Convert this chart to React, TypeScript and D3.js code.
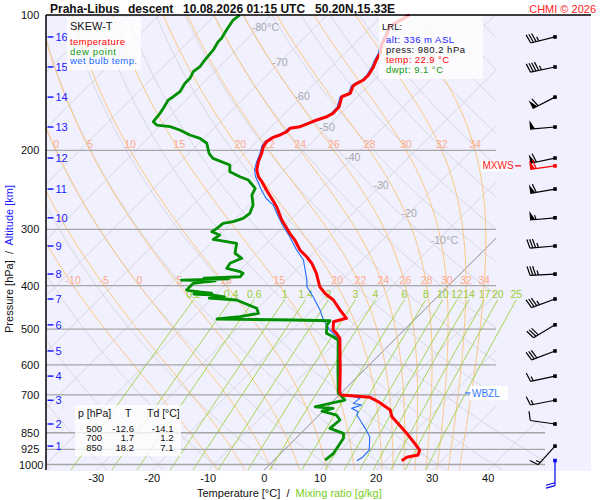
import * as d3 from "d3";

// ---- axes / labels ----
const pressureTicks = [100, 200, 300, 400, 500, 600, 700, 850, 925, 1000];
const longPressureLines = [850, 925, 1000];
const temperatureTicks = [-30, -20, -10, 0, 10, 20, 30, 40];
const altitudeKm = [16, 15, 14, 13, 12, 11, 10, 9, 8, 7, 6, 5, 4, 3, 2, 1];
const altitudeP = [111.9, 130.5, 152.3, 177.5, 208.1, 243.9, 282.6, 326.5, 377.0, 428.4, 489.0, 559.0, 635.8, 719.6, 812.6, 910.0];
const isothermLabelT = [-80, -70, -60, -50, -40, -30, -20, -10];
const isothermLabelP = [106.3, 127.3, 151.4, 177.5, 207.3, 239.1, 275.8, 316.5];
const moistThetaW = [-10, -5, 0, 5, 10, 15, 20, 22, 24, 26, 28, 30, 32, 34];
const mixingRatios = [0.2, 0.4, 0.6, 1, 1.4, 2, 3, 4, 6, 8, 10, 12, 14, 17, 20, 25];

// ---- winds at each km ----
const windDir = [256, 258, 243, 265, 258, 260, 265, 265, 267, 250, 239, 249, 258, 259, 278, 222];
const windSpeed = [35, 45, 60, 50, 60, 60, 55, 35, 35, 35, 30, 30, 15, 15, 10, 15];
const maxWind = { p: 216.6, dir: 262, speed: 60 };
const surfaceWind = { p: 980.2, dir: 180, speed: 20 };

// ---- table ----
const tableP = [500, 700, 850];
const tableT = [-12.6, 1.7, 18.2];
const tableTd = [-14.1, 1.2, 7.1];

const wbzlP = 693;

// ---- sounding [p hPa, T °C] ----
const temperature: [number, number][] = [
  [100, -55.3], [106.2, -56.8], [109.8, -56.0], [116.6, -54.9], [121.7, -53.7], [125.9, -53.2],
  [130.3, -52.5], [136, -51.9], [139.5, -51.9], [141.9, -52.5], [143.9, -52.7], [149.3, -51.9],
  [152, -52.8], [160, -51.5], [165.5, -51.4], [168.4, -51.9], [171.2, -53.1], [174.8, -54.2],
  [177.2, -54.9], [178.7, -56.4], [181.8, -56.4], [184.9, -57.0], [187.1, -57.8], [191.4, -58.2],
  [196.3, -57.9], [203.1, -57.0], [212, -56.1], [221.2, -54.9], [229, -53.4], [234.9, -51.9],
  [245.1, -49.6], [255.7, -47.2], [267, -44.8], [285.8, -41.5], [306, -37.7], [316.7, -35.6],
  [333.3, -32.9], [345, -30.5], [356.8, -28.4], [375.6, -25.8], [388.7, -24.3], [402.3, -22.8],
  [416.1, -20.7], [430.6, -18.0], [453.3, -15.0], [472.9, -12.4], [477, -13.3], [481.2, -14.1],
  [502.1, -12.7], [510.7, -11.5], [524, -10.0], [616, -4.3], [694.4, -0.2], [700.5, 0.4],
  [708.8, 5.9], [725, 8.2], [756.5, 11.8], [783, 13.3], [852.4, 18.9], [889.9, 21.6],
  [928.6, 24.2], [952.7, 24.8], [964, 23.2], [981, 22.9],
];

const dewPoint: [number, number][] = [
  [100, -85.6], [102.6, -85.9], [108, -85.3], [112.7, -84.7], [114.7, -84.7], [119.6, -84.1],
  [125.9, -83.8], [130.3, -83.5], [133.7, -83.8], [138.3, -83.2], [141.9, -83.2], [148.1, -82.6],
  [152, -82.9], [154.6, -83.2], [161.3, -82.6], [165.5, -82.3], [172.7, -82.0], [175.7, -80.8],
  [177.2, -78.1], [180.2, -75.8], [184.9, -73.1], [188.1, -70.7], [192.9, -68.6], [203.1, -66.4],
  [208.4, -64.8], [215.6, -60.6], [223.2, -59.4], [229, -56.7], [232.9, -54.6], [243, -51.9],
  [251.5, -51.3], [264.7, -49.3], [276.2, -48.4], [283.4, -48.7], [288.3, -49.9], [290.7, -51.4],
  [298.2, -51.6], [303.5, -51.9], [308.6, -49.9], [315.5, -50.3], [319.4, -47.5], [322.1, -45.4],
  [339, -43.9], [347.8, -41.8], [356.8, -43.0], [366, -42.7], [372.5, -39.7], [375.6, -38.9],
  [382.2, -38.8], [385, -45.0], [386.5, -40.5], [388.7, -48.7], [390.5, -42.5], [392.1, -43.9],
  [395.3, -46.0], [409.1, -46.0], [413, -43.5], [415.5, -41.0], [417.5, -44.0], [419.7, -40.3],
  [424, -38.0], [426.5, -40.5], [430.6, -35.3], [449.3, -30.2], [461, -29.0], [469.1, -31.7],
  [474.6, -35.4], [477, -21.6], [478.8, -14.9], [489.5, -14.7], [510.7, -13.3], [519.7, -11.5],
  [528.6, -10.0], [616, -4.7], [694, -0.5], [700.5, 0.2], [718.7, 1.9], [743.9, -2.2],
  [750.1, 1.3], [760.5, -0.2], [776.2, 3.1], [796.3, 4.6], [830.9, 4.3], [852.4, 7.6],
  [874.5, 8.5], [897.2, 8.8], [944.4, 9.4], [977.5, 9.1],
];

const wetBulb: [number, number][] = [
  [100, -55.6], [106.2, -57.1], [109.8, -56.3], [116.6, -55.2], [121.7, -54.0], [125.9, -53.5],
  [130.3, -52.8], [136, -52.2], [139.5, -52.2], [141.9, -52.8], [143.9, -53.0], [149.3, -52.2],
  [152, -53.1], [160, -51.8], [165.5, -51.7], [168.4, -52.2], [171.2, -53.4], [174.8, -54.5],
  [177.2, -55.2], [178.7, -56.7], [181.8, -56.7], [184.9, -57.3], [187.1, -58.1], [191.4, -58.5],
  [196.3, -58.2], [203.1, -57.3], [212, -56.4], [221.2, -55.3], [229, -53.9], [234.9, -52.6],
  [245.1, -50.5], [255.7, -48.2], [264.7, -45.7], [281, -42.7], [295.8, -40.0], [311.3, -37.1],
  [333.3, -33.5], [350.8, -30.5], [388.7, -26.3], [402.3, -25.1], [423.4, -22.2], [453.3, -18.6],
  [477, -16.2], [489.5, -14.7], [502.1, -13.3], [510.7, -12.1], [524, -10.4], [616, -4.5],
  [697, 0.0], [700.5, 1.9], [712.8, 4.3], [731, 4.0], [737.4, 5.8], [750.1, 4.6], [763.2, 6.4],
  [776.2, 6.7], [796.3, 8.2], [830.9, 10.6], [867.4, 12.9], [928.6, 15.2], [961, 15.3], [981, 14.9],
];

// ---- geometry ----
const L = 46, R = 496, TOP = 15, BOT = 470, WIDE = 545, BG_R = 591, BARB_X = 555;
const yScale = d3.scaleLog().domain([100, 1000]).range([15, 464.5]);
const tScale = d3.scaleLinear().domain([-30, 40]).range([96.2, 488.2]);
const skewX = (t: number, p: number) => tScale(t) + (BOT - yScale(p));
const pBottom = yScale.invert(BOT);

const profileLine = d3
  .line<[number, number]>()
  .x((d) => skewX(d[1], d[0]))
  .y((d) => yScale(d[0]));

const FONT = "Liberation Sans, Arial, Helvetica, sans-serif";

// thermodynamics for background lines
const satVap = (tc: number) => 6.112 * Math.exp((17.67 * tc) / (tc + 243.5));
const dewFromMixing = (w: number, p: number) => {
  const lnr = Math.log((w * p) / (622 + w) / 6.112);
  return (243.5 * lnr) / (17.67 - lnr);
};

function moistProfile(thetaW: number): [number, number][] {
  const f = (p: number, T: number) => {
    const tc = T - 273.15;
    const e = satVap(tc);
    const r = (0.622 * e) / (p - e);
    return ((287.04 * T + 2.501e6 * r) / (1005.7 + (2.501e6 * 2.501e6 * r * 0.622) / (287.04 * T * T))) / p;
  };
  const run = (h: number, pEnd: number) => {
    const out: [number, number][] = [];
    let p = 1000;
    let T = thetaW + 273.15;
    while ((h < 0 && p > pEnd) || (h > 0 && p < pEnd)) {
      const k1 = f(p, T);
      const k2 = f(p + h / 2, T + (h * k1) / 2);
      const k3 = f(p + h / 2, T + (h * k2) / 2);
      const k4 = f(p + h, T + h * k3);
      T += (h / 6) * (k1 + 2 * k2 + 2 * k3 + k4);
      p += h;
      out.push([p, T - 273.15]);
    }
    return out;
  };
  return [...run(5, 1060).reverse(), [1000, thetaW], ...run(-5, 100)];
}

function Barb({ x0, y0, dir, speed, color }: { x0: number; y0: number; dir: number; speed: number; color: string }) {
  const len = 25;
  const rad = (dir * Math.PI) / 180;
  const ux = Math.sin(rad), uy = -Math.cos(rad);
  const px = -uy, py = ux;
  const ex = x0 + ux * len, ey = y0 + uy * len;
  const at = (s: number) => [ex - ux * s, ey - uy * s];
  let rem = Math.round(speed / 5) * 5;
  const flags = Math.floor(rem / 50);
  rem -= flags * 50;
  const full = Math.floor(rem / 10);
  const half = rem - full * 10 >= 5;
  const parts: JSX.Element[] = [];
  let pos = 0;
  for (let i = 0; i < flags; i++) {
    const [bx, by] = at(pos);
    const [cx, cy] = at(pos + 5);
    parts.push(<polygon key={`f${i}`} points={`${bx},${by} ${bx + px * 9},${by + py * 9} ${cx},${cy}`} fill={color} />);
    pos += 6;
  }
  if (flags === 0 && full === 0 && half) pos = 3;
  for (let i = 0; i < full; i++) {
    const [bx, by] = at(pos);
    parts.push(<line key={`b${i}`} x1={bx} y1={by} x2={bx + px * 9 + ux * 2.5} y2={by + py * 9 + uy * 2.5} stroke={color} strokeWidth={1.2} />);
    pos += 2.8;
  }
  if (half) {
    const [bx, by] = at(pos);
    parts.push(<line key="h" x1={bx} y1={by} x2={bx + px * 4.5 + ux * 1.2} y2={by + py * 4.5 + uy * 1.2} stroke={color} strokeWidth={1.2} />);
  }
  return (
    <g>
      <line x1={x0} y1={y0} x2={ex} y2={ey} stroke={color} strokeWidth={1.2} />
      {parts}
      <rect x={x0 - 1.8} y={y0 - 1.8} width={3.6} height={3.6} fill={color} />
    </g>
  );
}

export default function App() {
  const isotherms = d3.range(-160, 51, 10);
  const dryAdiabats = d3.range(-40, 191, 10);
  const dryP = d3.range(1060, 95, -10);
  const moist = moistThetaW.map((tw) => ({ tw, pts: moistProfile(tw) }));
  const mrP = d3.range(1060, 429, -10);
  const moistAt = (pts: [number, number][], p: number) => pts.find((d) => Math.abs(d[0] - p) < 0.01)![1];

  return (
    <svg width={600} height={500} fontFamily={FONT} style={{ position: "absolute", left: 0, top: 0, display: "block" }}>
      <defs>
        <clipPath id="grid">
          <polygon points={`${L},${TOP} ${R},${TOP} ${R},420 ${WIDE},420 ${WIDE},${BOT} ${L},${BOT}`} />
        </clipPath>
        <clipPath id="mr">
          <rect x={L} y={TOP} width={WIDE - L} height={BOT - TOP} />
        </clipPath>
      </defs>
      <rect width={600} height={500} fill="#fff" />
      <rect x={L} y={TOP} width={BG_R - L} height={BOT - TOP + 1} fill="#f0f0ff" />

      <g clipPath="url(#grid)" fill="none">
        {isotherms.map((t) => (
          <line key={`it${t}`} x1={skewX(t, pBottom)} y1={BOT} x2={skewX(t, 100)} y2={TOP}
            stroke={t === 0 ? "#808080" : "#d2d2d8"} strokeWidth={t === 0 ? 0.9 : 0.8} />
        ))}
        {dryAdiabats.map((th) => (
          <path key={`da${th}`} stroke="#d2d2d8" strokeWidth={0.8}
            d={profileLine(dryP.map((p) => [p, (th + 273.15) * Math.pow(p / 1000, 0.2857) - 273.15]))!} />
        ))}
        {moist.map(({ tw, pts }) => (
          <path key={`ma${tw}`} stroke="#ffc270" strokeWidth={0.9} d={profileLine(pts)!} />
        ))}
      </g>
      <g clipPath="url(#mr)" fill="none">
        {mixingRatios.map((w) => (
          <path key={`mr${w}`} stroke="#9ad43a" strokeWidth={0.9}
            d={profileLine(mrP.map((p) => [p, dewFromMixing(w, p)]))!} />
        ))}
      </g>

      {/* pressure lines */}
      {pressureTicks.filter((p) => p !== 100).map((p) => (
        <line key={`pl${p}`} x1={L} x2={longPressureLines.includes(p) ? WIDE : R} y1={yScale(p)} y2={yScale(p)}
          stroke="#a6a6a6" strokeWidth={1.3} />
      ))}

      {/* grid labels */}
      <g fontSize={10.5}>
        {isothermLabelT.map((t, i) => {
          const x = skewX(t, isothermLabelP[i]);
          const y = yScale(isothermLabelP[i]) + 4;
          return (
            <g key={`itl${t}`} fill="#a8a8a8">
              <text x={x} y={y} textAnchor="middle">{t}</text>
              {(t === -80 || t === -10) && <text x={x + 8} y={y}>{" °C"}</text>}
            </g>
          );
        })}
        {moist.map(({ tw, pts }) =>
          [200, 400].map((p) => {
            const x = skewX(moistAt(pts, p), p);
            if (x < L + 4 || x > R) return null;
            return (
              <text key={`mal${tw}-${p}`} x={x} y={yScale(p) - 2} textAnchor="middle" fill="#ffaa88">{tw}</text>
            );
          })
        )}
        {mixingRatios.map((w) => (
          <text key={`mrl${w}`} x={skewX(dewFromMixing(w, 430), 430)} y={yScale(430) - 2} textAnchor="middle" fill="#9acd32">{w}</text>
        ))}
      </g>

      {/* profiles */}
      <g fill="none" strokeLinejoin="round">
        <path d={profileLine(wetBulb)!} stroke="#1f6dff" strokeWidth={1.1} />
        <path d={profileLine(dewPoint)!} stroke="#008f00" strokeWidth={2.8} />
        <path d={profileLine(temperature)!} stroke="#ff0000" strokeWidth={3} />
      </g>

      {/* borders */}
      <line x1={L} x2={BG_R} y1={TOP} y2={TOP} stroke="#000" strokeWidth={1.5} />
      <line x1={L} x2={L} y1={TOP} y2={BOT} stroke="#000" strokeWidth={1.5} />

      {/* pressure axis */}
      <g fontSize={11} fill="#111">
        {pressureTicks.map((p) => (
          <text key={`pt${p}`} x={p === 1000 ? 19 : 21} y={yScale(p) + 4}>{p}</text>
        ))}
      </g>
      <g fontSize={11} fill="#1a1aff">
        {altitudeKm.map((km, i) => (
          <g key={`km${km}`}>
            <line x1={47.5} x2={53.5} y1={yScale(altitudeP[i])} y2={yScale(altitudeP[i])} stroke="#1a1aff" strokeWidth={1.5} />
            <text x={55.5} y={yScale(altitudeP[i]) + 4}>{km}</text>
          </g>
        ))}
      </g>
      <text transform="translate(13,259) rotate(-90)" textAnchor="middle" fontSize={11} style={{ whiteSpace: "pre" }}>
        <tspan fill="#111">{"Pressure [hPa]  /  "}</tspan>
        <tspan fill="#1a1aff">Altitude [km]</tspan>
      </text>

      {/* temperature axis */}
      <g fontSize={11} fill="#111">
        {temperatureTicks.map((t) => (
          <text key={`tt${t}`} x={tScale(t)} y={482} textAnchor="middle">{t}</text>
        ))}
      </g>
      <text x={197} y={497} fontSize={11} style={{ whiteSpace: "pre" }}>
        <tspan fill="#111">{"Temperature [°C]  /  "}</tspan>
        <tspan fill="#77cc22">Mixing ratio [g/kg]</tspan>
      </text>

      {/* winds */}
      {altitudeKm.map((km, i) => (
        <Barb key={`w${km}`} x0={BARB_X} y0={yScale(altitudeP[i])} dir={windDir[i]} speed={windSpeed[i]} color="#000" />
      ))}
      <Barb x0={BARB_X} y0={yScale(maxWind.p)} dir={maxWind.dir} speed={maxWind.speed} color="#ff0000" />
      <Barb x0={BARB_X} y0={yScale(surfaceWind.p)} dir={surfaceWind.dir} speed={surfaceWind.speed} color="#0000ee" />
      <rect x={481} y={yScale(maxWind.p) - 5.5} width={31} height={11} fill="#fff" />
      <text x={482.5} y={yScale(maxWind.p) + 3.5} fontSize={10} fill="#ff2020">MXWS</text>
      <line x1={515} x2={521} y1={yScale(maxWind.p)} y2={yScale(maxWind.p)} stroke="#ff0000" strokeWidth={1.2} />

      {/* WBZL */}
      <rect x={470} y={yScale(wbzlP) - 7} width={38} height={14} fill="#fff" />
      <line x1={465} x2={470.5} y1={yScale(wbzlP)} y2={yScale(wbzlP)} stroke="#3377ff" strokeWidth={1.2} />
      <text x={472} y={yScale(wbzlP) + 3.7} fontSize={10} fill="#3377ff">WBZL</text>

      {/* legend */}
      <rect x={67} y={17} width={74} height={53} fill="#fff" fillOpacity={0.78} />
      <text x={70} y={30} fontSize={11} fill="#111">SKEW-T</text>
      <g fontSize={9.5}>
        <text x={70} y={45} fill="#ff0000" textLength={55}>temperature</text>
        <text x={70} y={54.5} fill="#119911" textLength={46}>dew point</text>
        <text x={70} y={64} fill="#2266ff" textLength={67}>wet bulb temp.</text>
      </g>

      {/* LRL box */}
      <rect x={379} y={16} width={104} height={63} fill="#fff" fillOpacity={0.78} />
      <g fontSize={9.5}>
        <text x={382} y={30} fill="#111">LRL:</text>
        <text x={386} y={43} fill="#1a1aff" textLength={68}>alt: 336 m ASL</text>
        <text x={386} y={53.3} fill="#111" textLength={79}>press: 980.2 hPa</text>
        <text x={386} y={63.3} fill="#ff0000" textLength={63}>temp: 22.9 °C</text>
        <text x={386} y={72.8} fill="#119911" textLength={57}>dwpt: 9.1 °C</text>
      </g>

      {/* table */}
      <rect x={75} y={405} width={106} height={51} fill="#fff" fillOpacity={0.78} />
      <g fontSize={10.5} fill="#111">
        <text x={78} y={417}>p [hPa]</text>
        <text x={125} y={417}>T</text>
        <text x={147} y={417}>Td [°C]</text>
      </g>
      <g fontSize={9.5} fill="#111" textAnchor="end">
        {tableP.map((p, i) => (
          <g key={`tr${p}`}>
            <text x={102} y={431.5 + i * 9.7}>{p}</text>
            <text x={134} y={431.5 + i * 9.7}>{tableT[i].toFixed(1)}</text>
            <text x={173.5} y={431.5 + i * 9.7}>{tableTd[i].toFixed(1)}</text>
          </g>
        ))}
      </g>

      {/* title */}
      <g fontSize={12} fontWeight="bold" fill="#111">
        <text x={50} y={13}>Praha-Libus</text>
        <text x={128} y={13}>descent</text>
        <text x={183} y={13}>10.08.2026 01:15 UTC</text>
        <text x={315} y={13}>50.20N,15.33E</text>
      </g>
      <text x={596} y={13} fontSize={11} fill="#ff2020" textAnchor="end">CHMI © 2026</text>
    </svg>
  );
}
